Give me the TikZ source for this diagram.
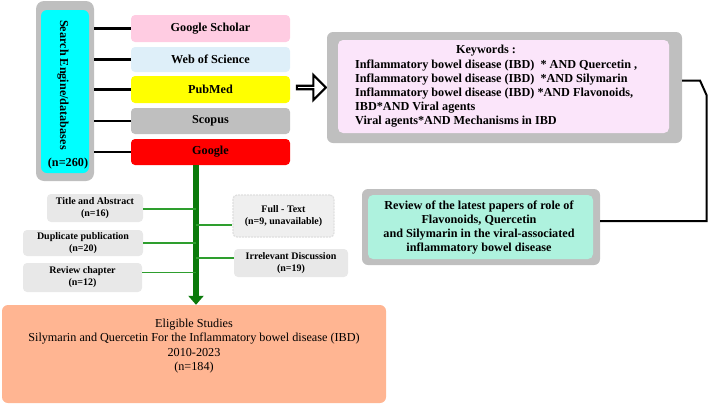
\documentclass[tikz,border=0pt]{standalone}
\usepackage{fontspec}
\setmainfont{Liberation Serif}
\usetikzlibrary{arrows.meta,shapes.arrows,calc}
\definecolor{outgray}{HTML}{BFBFBF}
\definecolor{cyanc}{HTML}{00FFFF}
\definecolor{pinkc}{HTML}{FFCCE2}
\definecolor{wosc}{HTML}{DEEFF9}
\definecolor{yelc}{HTML}{FFFF00}
\definecolor{redc}{HTML}{FF0000}
\definecolor{kwc}{HTML}{FBE5FA}
\definecolor{mintc}{HTML}{AEF2DE}
\definecolor{salmc}{HTML}{FFB592}
\definecolor{exgray}{HTML}{E8E8E8}
\definecolor{trunkc}{HTML}{0B7A0B}
\definecolor{glight}{HTML}{2E9E2E}
\begin{document}
\begin{tikzpicture}[x=1pt,y=-1pt,
  box/.style={rounded corners=4pt, inner sep=0pt, align=center},
  bfa/.style={font=\bfseries\fontsize{12.2}{14}\selectfont},
  bfb/.style={font=\bfseries\fontsize{10}{12}\selectfont},
  dbbox/.style={box, bfa, minimum width=159pt},
  exbox/.style={box, fill=exgray, bfb},
  blk/.style={line width=2.2pt, black},
  gline/.style={draw=glight, line width=1.2pt},
  trunk/.style={draw=trunkc, line width=6pt, -{Triangle[width=15pt,length=9pt]}}]
\useasboundingbox (0,0) rectangle (708,407);

% left search engine box
\node[box, fill=outgray, rounded corners=8pt, minimum width=58pt, minimum height=180pt] (outer) at (65,91) {};
\node[box, fill=cyanc, rounded corners=6pt, minimum width=48pt, minimum height=163pt] (inner) at (65,91.5) {};
\node[bfa, rotate=-90, inner sep=0pt] (se) at (63,85) {Search Engine/databases};
\node[bfa, inner sep=0pt] (n260) at (68,164) {(n=260)};

% databases
\node[dbbox, fill=pinkc, minimum height=27pt] (gs) at (210.5,28.5) {Google Scholar};
\node[dbbox, fill=wosc, minimum height=25pt] (wos) at (210.5,59.5) {Web of Science};
\node[dbbox, fill=yelc, minimum height=27pt] (pm) at (210.5,89.5) {PubMed};
\node[dbbox, fill=outgray, minimum height=26pt] (sc) at (210.5,121) {Scopus};
\node[dbbox, fill=redc, minimum height=26pt] (gg) at (210.5,152) {Google};
\foreach \n in {gs,wos,pm,sc,gg}
  \draw[blk, line width=2.5pt] (\n.west) -- (\n.west -| outer.east);

% hollow arrow
\node[single arrow, draw=black, fill=white, line width=2.2pt, minimum width=25pt,
      single arrow head extend=7pt, minimum height=29pt, inner sep=0pt] (harr) at (310.5,87.5) {};

% keywords box
\node[box, fill=outgray, rounded corners=6pt, minimum width=355pt, minimum height=111pt] (kwo) at (504.5,87.5) {};
\node[box, fill=kwc, rounded corners=5pt, minimum width=331pt, minimum height=93pt] (kwi) at (503.5,86.5) {};
\node[bfa, inner sep=0pt, anchor=base] (kwh) at (486,53) {Keywords :};
\node[bfa, inner sep=0pt, anchor=north west, align=left] (kwt) at (355,59.5)
  {Inflammatory bowel disease (IBD)\ \ * AND Quercetin ,\\
   Inflammatory bowel disease (IBD)\ \ *AND Silymarin\\
   Inflammatory bowel disease (IBD) *AND Flavonoids,\\
   IBD*AND Viral agents\\
   Viral agents*AND Mechanisms in IBD};

% review box
\node[box, fill=outgray, rounded corners=6pt, minimum width=238pt, minimum height=76pt] (rvo) at (481,227) {};
\node[box, fill=mintc, rounded corners=5pt, minimum width=225pt, minimum height=64pt] (rvi) at (480.5,227) {};
\node[bfa, inner sep=0pt, align=center] (rvt) at (479,228)
  {Review of the latest papers of role of\\ Flavonoids, Quercetin\\ and Silymarin in the viral-associated\\ inflammatory bowel disease};

% black connector
\coordinate (c1) at (700,80.5);
\coordinate (c2) at (706.5,95);
\coordinate (c3) at (706.5,221);
\draw[blk, line width=2pt, line join=miter] ([yshift=7pt]kwo.east) -- (c1) -- (c2) -- (c3) -- (c3 -| rvo.east);

% eligible box
\node[box, fill=salmc, rounded corners=6pt, minimum width=384pt, minimum height=98pt] (elig) at (194,354) {};
\node[inner sep=0pt, align=center, font=\fontsize{12.2}{14.4}\selectfont] (eligt) at (194,346)
  {Eligible Studies\\ Silymarin and Quercetin For the Inflammatory bowel disease (IBD)\\ 2010-2023\\ (n=184)};

% trunk
\coordinate (t0) at (196,165);
\draw[trunk] (t0) -- (t0 |- elig.north);

% exclusion boxes left
\node[exbox, minimum width=96pt, minimum height=28pt] (ta) at (95,208) {Title and Abstract\\ (n=16)};
\node[exbox, minimum width=120pt, minimum height=26pt] (dp) at (83,243) {Duplicate publication\\ (n=20)};
\node[exbox, minimum width=119pt, minimum height=29pt] (rc) at (82.5,277.5) {Review chapter\\ (n=12)};
\draw[gline] ([yshift=-1pt]ta.east) -- ([yshift=-1pt]ta.east -| t0);
\draw[gline] (dp.east) -- (dp.east -| t0);
\draw[gline] ([yshift=5pt]rc.east) -- ([yshift=5pt]rc.east -| t0);

% exclusion boxes right
\node[exbox, fill=exgray!70, draw=gray!25, line width=1.2pt, dash pattern=on 2pt off 1pt, minimum width=101pt, minimum height=42pt] (ft) at (283.5,216) {Full - Text\\ (n=9, unavailable)};
\node[exbox, minimum width=114pt, minimum height=28pt] (ir) at (291,263) {Irrelevant Discussion\\ (n=19)};
\draw[gline] ([yshift=-9pt]ft.west) -- ([yshift=-9pt]ft.west -| t0);
\draw[gline] ([yshift=5pt]ir.west) -- ([yshift=5pt]ir.west -| t0);
\end{tikzpicture}
\end{document}
